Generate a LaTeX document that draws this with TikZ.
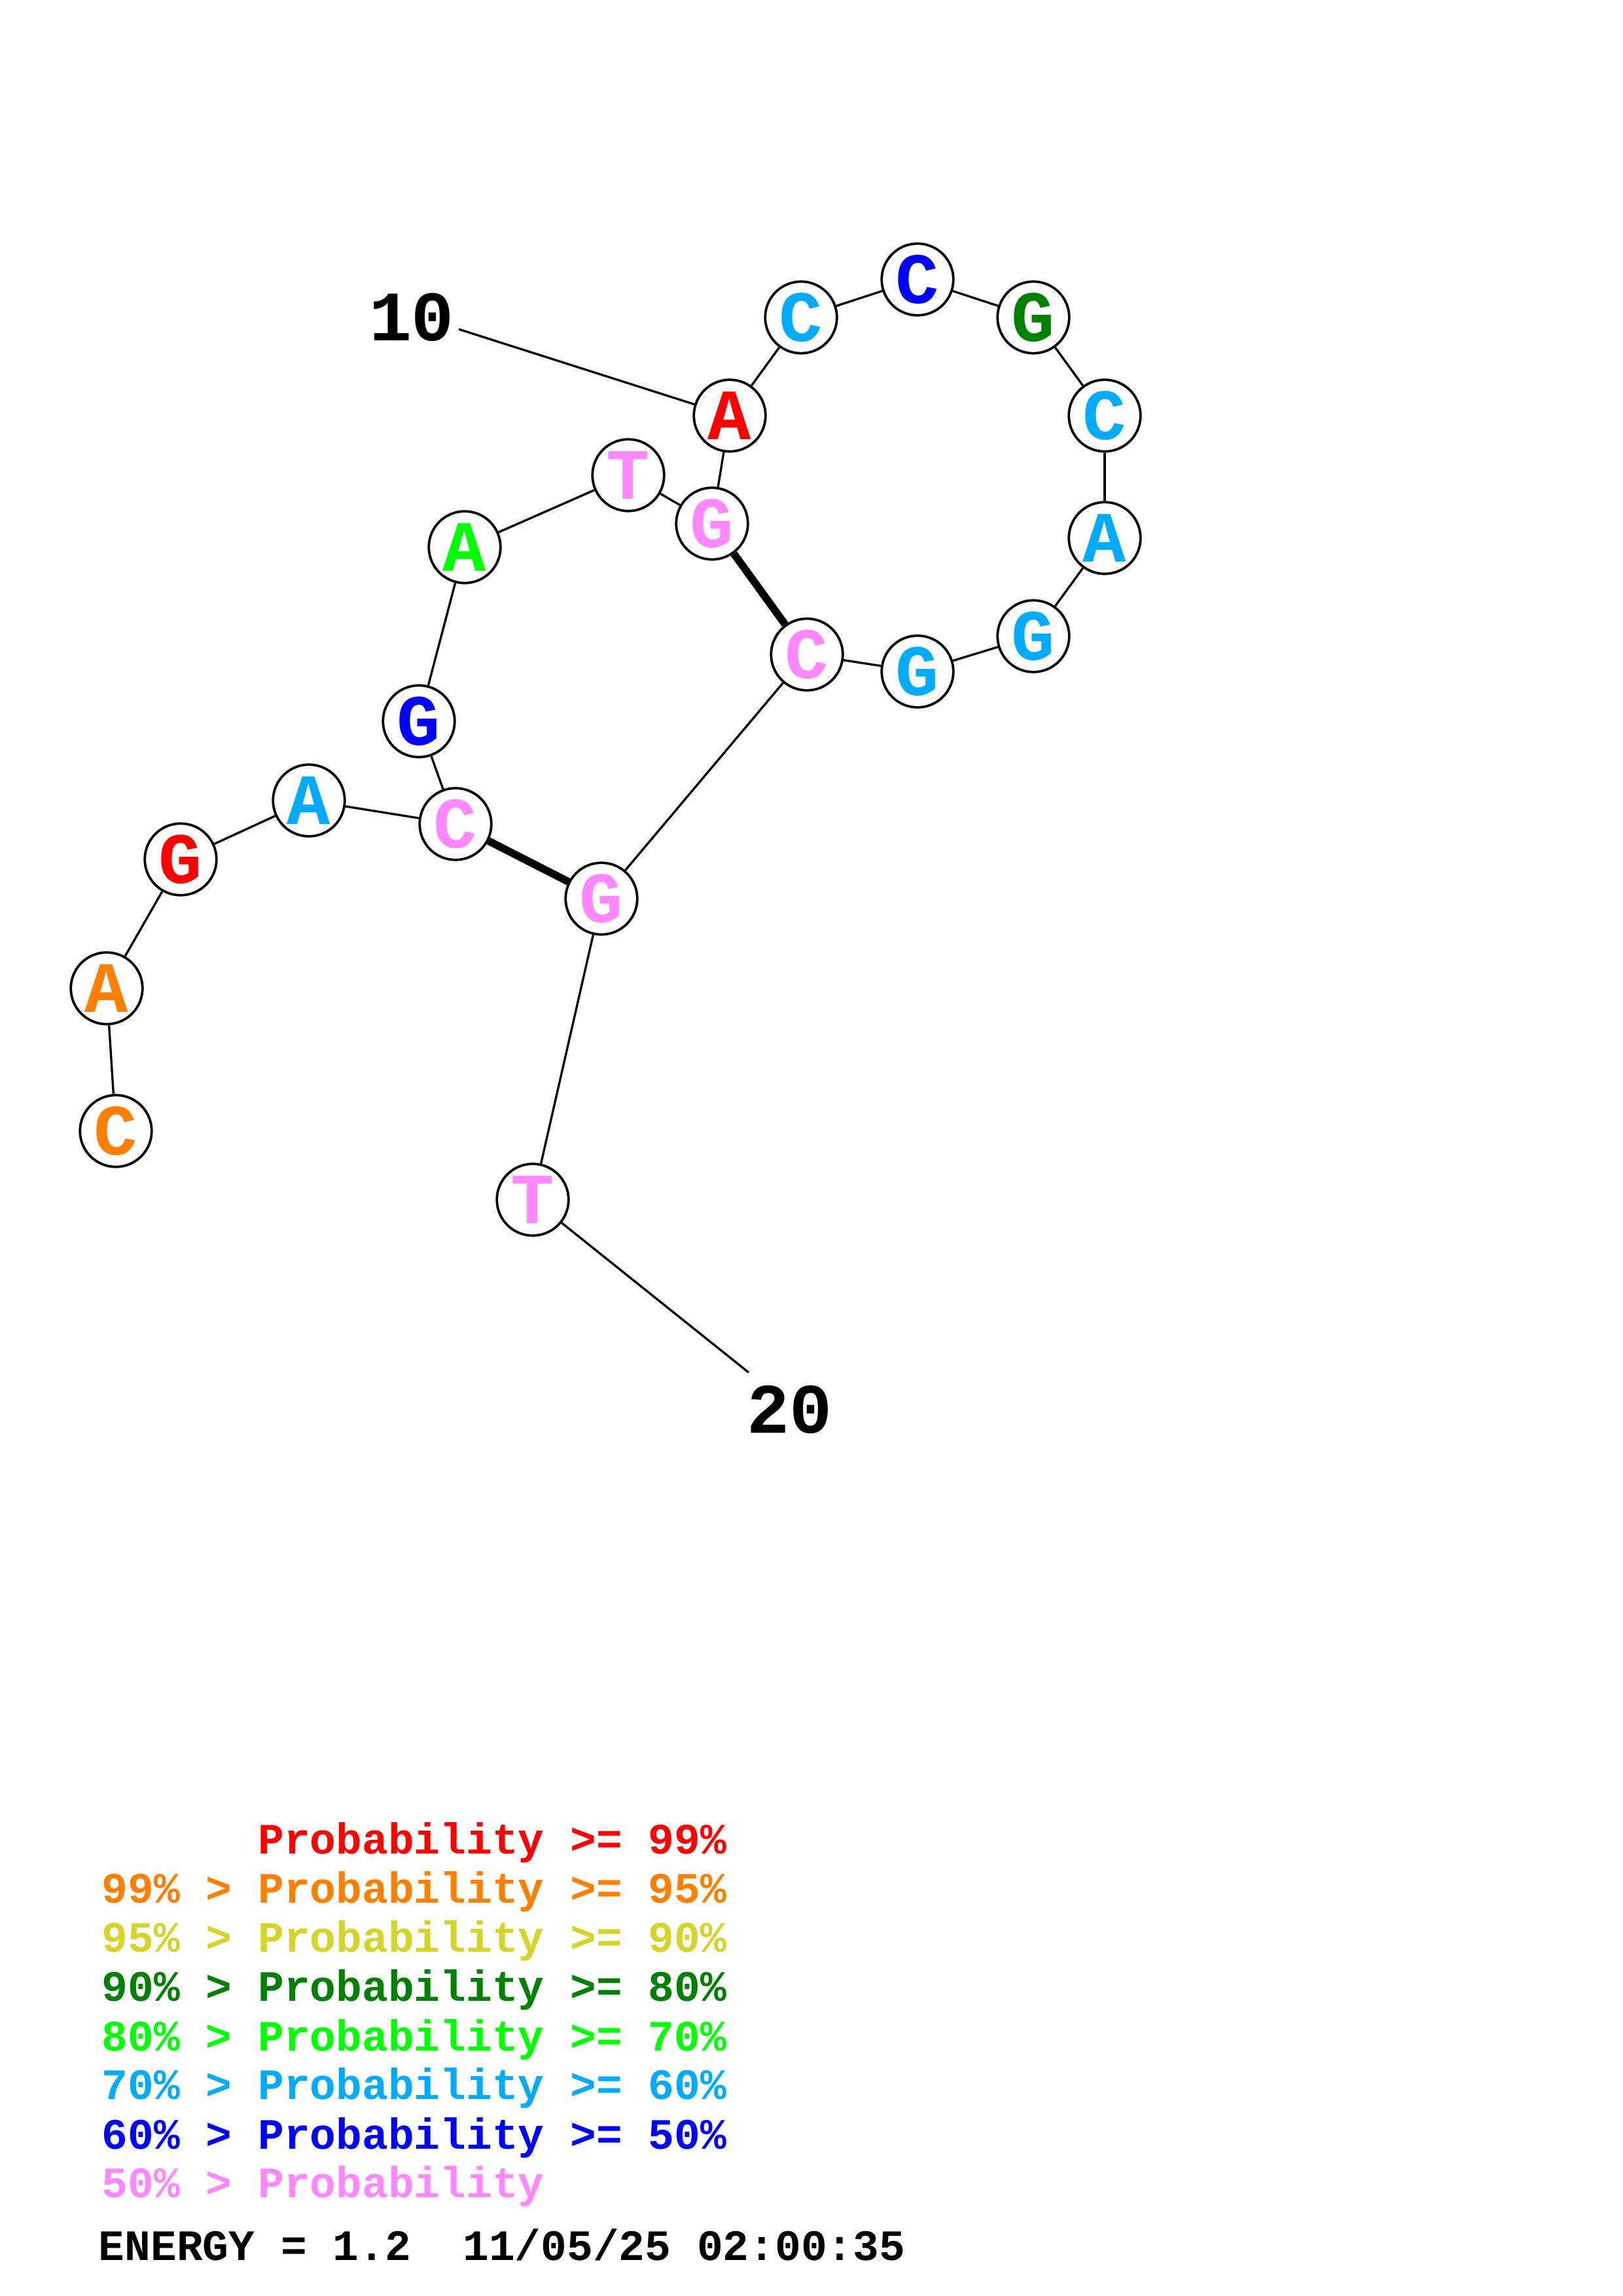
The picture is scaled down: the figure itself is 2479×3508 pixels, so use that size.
\documentclass[tikz,border=0pt]{standalone}
\usepackage{fontspec}
\setmainfont{Liberation Mono}
\definecolor{pRed}{RGB}{255,0,0}
\definecolor{pOrange}{RGB}{255,128,0}
\definecolor{pYellow}{RGB}{212,212,42}
\definecolor{pDkGreen}{RGB}{0,128,0}
\definecolor{pGreen}{RGB}{0,255,0}
\definecolor{pLBlue}{RGB}{0,170,255}
\definecolor{pBlue}{RGB}{0,0,255}
\definecolor{pPink}{RGB}{255,136,255}
\begin{document}
\begin{tikzpicture}[x=0.24pt,y=-0.24pt,
  base/.style={circle,draw=black,line width=0.9pt,fill=white,minimum size=26.3pt,inner sep=0pt,font=\fontsize{26.5}{26}\selectfont\bfseries},
  bond/.style={line width=0.8pt},
  pair/.style={line width=2.8pt},
  legend/.style={anchor=base west,inner sep=0pt,font=\fontsize{15.9}{18}\selectfont\bfseries},
  numlabel/.style={font=\fontsize{26}{26}\selectfont\bfseries,inner sep=0pt}]
\useasboundingbox (0,0) rectangle (2479,3508);
% nucleotides
\node[base,text=pOrange] (n1) at (177,1728) {C};
\node[base,text=pOrange] (n2) at (163,1510) {A};
\node[base,text=pRed] (n3) at (276,1313) {G};
\node[base,text=pLBlue] (n4) at (472,1223) {A};
\node[base,text=pPink] (n5) at (696,1259) {C};
\node[base,text=pBlue] (n6) at (640,1102) {G};
\node[base,text=pGreen] (n7) at (710,836) {A};
\node[base,text=pPink] (n8) at (960,726) {T};
\node[base,text=pPink] (n9) at (1088,800) {G};
\node[base,text=pRed] (n10) at (1115,635) {A};
\node[base,text=pLBlue] (n11) at (1224,485) {C};
\node[base,text=pBlue] (n12) at (1402,427) {C};
\node[base,text=pDkGreen] (n13) at (1579,485) {G};
\node[base,text=pLBlue] (n14) at (1688,635) {C};
\node[base,text=pLBlue] (n15) at (1688,822) {A};
\node[base,text=pLBlue] (n16) at (1579,972) {G};
\node[base,text=pLBlue] (n17) at (1402,1026) {G};
\node[base,text=pPink] (n18) at (1233,1000) {C};
\node[base,text=pPink] (n19) at (919,1373) {G};
\node[base,text=pPink] (n20) at (814,1833) {T};
% position labels
\node[numlabel] (l10) at (629,485) {10};
\node[numlabel] (l20) at (1206,2154) {20};
\coordinate (e10) at (701,503);
\coordinate (e20) at (1144,2097);
% backbone
\draw[bond] (n1) -- (n2);
\draw[bond] (n2) -- (n3);
\draw[bond] (n3) -- (n4);
\draw[bond] (n4) -- (n5);
\draw[bond] (n5) -- (n6);
\draw[bond] (n6) -- (n7);
\draw[bond] (n7) -- (n8);
\draw[bond] (n8) -- (n9);
\draw[bond] (n9) -- (n10);
\draw[bond] (n10) -- (n11);
\draw[bond] (n11) -- (n12);
\draw[bond] (n12) -- (n13);
\draw[bond] (n13) -- (n14);
\draw[bond] (n14) -- (n15);
\draw[bond] (n15) -- (n16);
\draw[bond] (n16) -- (n17);
\draw[bond] (n17) -- (n18);
\draw[bond] (n18) -- (n19);
\draw[bond] (n19) -- (n20);
\draw[bond] (e10) -- (n10);
\draw[bond] (n20) -- (e20);
% base pairs
\draw[pair] (n9) -- (n18);
\draw[pair] (n5) -- (n19);
% legend
\node[legend,text=pRed] (g1) at (155,2832) {\phantom{99\% > }Probability >= 99\%};
\node[legend,text=pOrange] (g2) at (155,2907) {99\% > Probability >= 95\%};
\node[legend,text=pYellow] (g3) at (155,2982) {95\% > Probability >= 90\%};
\node[legend,text=pDkGreen] (g4) at (155,3057) {90\% > Probability >= 80\%};
\node[legend,text=pGreen] (g5) at (155,3133) {80\% > Probability >= 70\%};
\node[legend,text=pLBlue] (g6) at (155,3207) {70\% > Probability >= 60\%};
\node[legend,text=pBlue] (g7) at (155,3283) {60\% > Probability >= 50\%};
\node[legend,text=pPink] (g8) at (155,3357) {50\% > Probability};
\node[legend,text=black] (g9) at (150,3453) {ENERGY = 1.2~~11/05/25 02:00:35};
\end{tikzpicture}
\end{document}
